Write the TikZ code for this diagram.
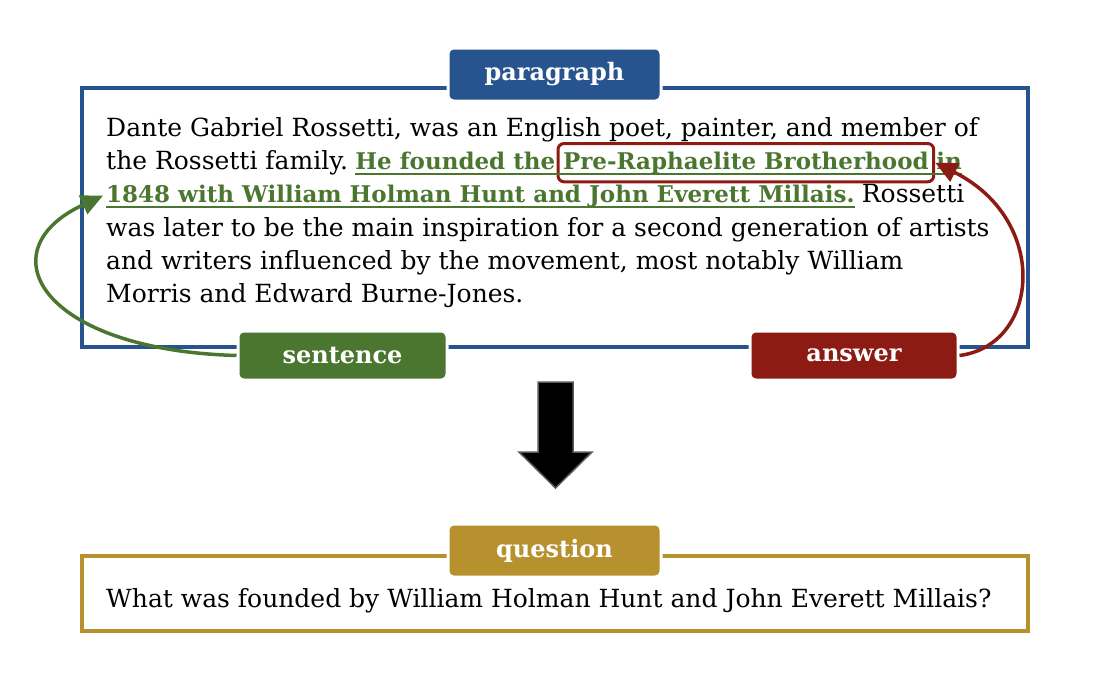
\documentclass[tikz,border=0pt]{standalone}
\usepackage{fontspec}
\setmainfont{DejaVu Serif}
\usetikzlibrary{positioning,arrows.meta}
\definecolor{parblue}{HTML}{27538E}
\definecolor{sentgreen}{HTML}{4A7630}
\definecolor{ansred}{HTML}{8C1B13}
\definecolor{qgold}{HTML}{B8912F}

\begin{document}
\begin{tikzpicture}[x=1pt,y=-1pt]
\tikzstyle{every node}+=[inner sep=0pt]
\tikzstyle{txt}=[anchor=base west, font=\fontsize{25}{30}\selectfont]
\tikzstyle{hl}=[txt, text=sentgreen, font=\fontsize{23}{28}\selectfont\bfseries]
\tikzstyle{tag}=[rounded corners=6pt, draw=white, line width=3pt, text=white, font=\fontsize{24}{28}\selectfont\bfseries]
\tikzstyle{frame}=[draw, line width=3.5pt, minimum width=946pt]
\tikzstyle{link}=[line width=3.5pt, -{Triangle[length=22pt,width=20pt]}]
\useasboundingbox (0,0) rectangle (1108,680);
% frames
\node[frame, draw=parblue, minimum height=259pt] (para) at (555,217.5) {};
\node[frame, draw=qgold, minimum height=75pt] (ques) at (555,593.5) {};
% paragraph text
\node[txt] (l1) at (106,136) {Dante Gabriel Rossetti, was an English poet, painter, and member of};
\node[txt] (l2a) at (106,169) {the Rossetti family.};
\node[hl, base right=7pt of l2a] (l2b) {He founded the};
\node[hl, base right=1pt of l2b, draw=ansred, line width=3pt, rounded corners=6pt, inner xsep=5pt, inner ysep=8pt] (brother) {Pre-Raphaelite Brotherhood};
\node[hl, base right=1pt of brother] (l2d) {in};
\node[hl] (l3a) at (106,202) {1848 with William Holman Hunt and John Everett Millais.};
\node[txt, base right=7pt of l3a] (l3b) {Rossetti};
\node[txt] (l4) at (106,236) {was later to be the main inspiration for a second generation of artists};
\node[txt] (l5) at (106,269) {and writers influenced by the movement, most notably William};
\node[txt] (l6) at (106,302) {Morris and Edward Burne-Jones.};
% underlines
\draw[sentgreen, line width=2pt] ([yshift=-5pt]l2b.base west) -- ([yshift=-5pt]l2d.base east);
\draw[sentgreen, line width=2pt] ([yshift=-5pt]l3a.base west) -- ([yshift=-5pt]l3a.base east);
% question text
\node[txt] (q) at (106,607) {What was founded by William Holman Hunt and John Everett Millais?};
% tags
\node[tag, fill=parblue, minimum width=213pt, minimum height=53pt] (ptag) at (554.5,74.5) {paragraph};
\node[tag, fill=sentgreen, minimum width=209pt, minimum height=49pt] (sent) at (342.5,355.5) {sentence};
\node[tag, fill=ansred, minimum width=208pt, minimum height=49pt] (ans) at (854,355.5) {answer};
\node[tag, fill=qgold, minimum width=213pt, minimum height=53pt] (qtag) at (554.5,550.5) {question};
% links
\draw[link, sentgreen] (sent.west) .. controls (40,350) and (-15,250) .. ([xshift=-3pt]l3a.west);
\draw[link, ansred] (ans.east) .. controls (1040,345) and (1050,220) .. (brother.east);
% big arrow
\draw[fill=black, draw=black!65, line width=1.5pt, line join=miter] (538,382) -- (573,382) -- (573,452) -- (592,452) -- (555.5,488) -- (519,452) -- (538,452) -- cycle;
\end{tikzpicture}
\end{document}
